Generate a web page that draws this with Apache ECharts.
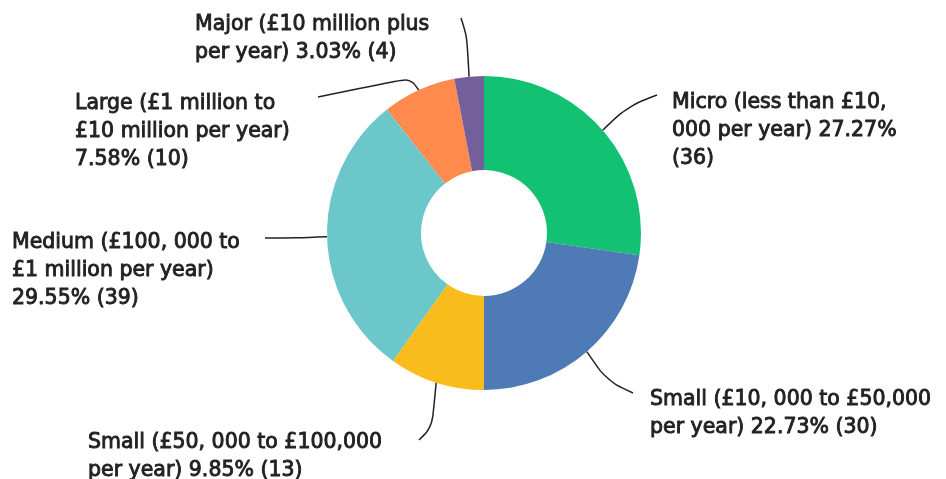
<!DOCTYPE html>
<html>
<head>
<meta charset="utf-8">
<script src="https://cdn.jsdelivr.net/npm/echarts@6/dist/echarts.min.js"></script>
<style>html,body{margin:0;padding:0;background:#fff}#c{width:946px;height:479px}</style>
</head>
<body>
<div id="c"></div>
<script>
const categories = [
  'Micro (less than £10, 000 per year)',
  'Small (£10, 000 to £50,000 per year)',
  'Small (£50, 000 to £100,000 per year)',
  'Medium (£100, 000 to £1 million per year)',
  'Large (£1 million to £10 million per year)',
  'Major (£10 million plus per year)'
];
const values = [36, 30, 13, 39, 10, 4];
const percents = ['27.27%', '22.73%', '9.85%', '29.55%', '7.58%', '3.03%'];
const labelTexts = [
  'Micro (less than £10,\n000 per year) 27.27%\n(36)',
  'Small (£10, 000 to £50,000\nper year) 22.73% (30)',
  'Small (£50, 000 to £100,000\nper year) 9.85% (13)',
  'Medium (£100, 000 to\n£1 million per year)\n29.55% (39)',
  'Large (£1 million to\n£10 million per year)\n7.58% (10)',
  'Major (£10 million plus\nper year) 3.03% (4)'
];
const colors = ['#12C172', '#4E7BB5', '#F8BC1C', '#6CC7CB', '#FF8A4E', '#73609A'];

// label layout (top-left of text block) and leader-line bend/end points
const labelPos = [
  {x: 672, y: 89, line: [[628, 106], [657, 95]]},
  {x: 650, y: 386, line: [[607, 381], [633, 393]]},
  {x: 88, y: 429, line: [[432, 427], [419, 440]]},
  {x: 12, y: 229, line: [[296, 238], [265, 238]]},
  {x: 75, y: 90, line: [[410, 78], [318, 97]]},
  {x: 195, y: 11, line: [[467, 36], [461, 18]]}
];

const chart = echarts.init(document.getElementById('c'));
chart.setOption({
  animation: false,
  series: [{
    type: 'pie',
    center: [484, 233],
    radius: [63, 157],
    startAngle: 90,
    clockwise: true,
    avoidLabelOverlap: false,
    data: categories.map((n, i) => ({name: n, value: values[i], itemStyle: {color: colors[i]}})),
    label: {
      show: true,
      formatter: p => labelTexts[p.dataIndex],
      fontFamily: 'DejaVu Sans',
      fontWeight: 'normal',
      fontSize: 20.5,
      lineHeight: 28,
      color: '#222',
      textBorderColor: '#222',
      textBorderWidth: 0.9,
      align: 'left'
    },
    labelLine: {
      show: true,
      smooth: 0.35,
      length: 20,
      length2: 20,
      lineStyle: {color: '#222', width: 1.5}
    },
    labelLayout: p => {
      const lp = labelPos[p.dataIndex];
      const start = p.labelLinePoints ? p.labelLinePoints[0] : lp.line[0];
      return {
        x: lp.x, y: lp.y, align: 'left', verticalAlign: 'top',
        labelLinePoints: [start, lp.line[0], lp.line[1]]
      };
    }
  }]
});
</script>
</body>
</html>
